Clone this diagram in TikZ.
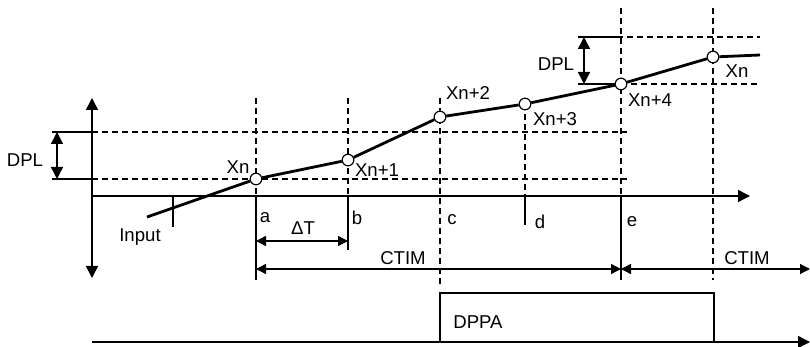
\documentclass[tikz,border=0pt]{standalone}
\usepackage{fontspec}
\setmainfont{Liberation Sans}
\usepackage{tikz}
\usetikzlibrary{arrows.meta}

\begin{document}
\begin{tikzpicture}[
  x=0.5pt,y=-0.5pt,
  axis/.style={line width=0.7pt},
  grid/.style={dash pattern=on 3pt off 2pt, line width=0.6pt},
  sig/.style={line width=1.4pt},
  smp/.style={circle, draw, fill=white, line width=0.6pt, minimum size=5.8pt, inner sep=0pt},
  lbl/.style={font=\fontsize{9.3}{11}\selectfont, inner sep=0pt},
  arr/.style={-{Triangle[length=6pt,width=6pt]}, line width=0.7pt},
  dimarr/.style={{Triangle[length=5pt,width=5pt]}-{Triangle[length=5pt,width=5pt]}, line width=0.7pt},
  bigdim/.style={{Triangle[length=6pt,width=6pt]}-{Triangle[length=6pt,width=6pt]}, line width=0.7pt}
]
\useasboundingbox (0,0) rectangle (810,347);
% axes
\coordinate (o) at (92,196);
\coordinate (tend) at (750,196);
\coordinate (vtop) at (92,98);
\coordinate (vbot) at (92,278);
\coordinate (b0) at (92,342);
\coordinate (bend) at (810,342);
\draw[arr] (o) -- (tend);
\draw[bigdim] (vtop) -- (vbot);
\draw[arr] (b0) -- (bend);
% DPL levels
\draw[axis] (52,132) -- (92,132);
\draw[grid] (92,132) -- (627,132);
\draw[axis] (52,179) -- (92,179);
\draw[grid] (92,179) -- (627,179);
\draw[axis] (578,37) -- (617,37);
\draw[grid] (617,37) -- (760,37);
\draw[axis] (578,84) -- (621,84);
\draw[grid] (621,84) -- (760,84);
% sampling instants
\draw[grid] (256,98) -- (256,196);
\draw[axis] (256,196) -- (256,280);
\draw[grid] (348,98) -- (348,196);
\draw[axis] (348,196) -- (348,250);
\draw[grid] (440,98) -- (440,285);
\draw[grid] (525,104) -- (525,196);
\draw[axis] (525,196) -- (525,225);
\draw[grid] (621,8) -- (621,196);
\draw[axis] (621,196) -- (621,280);
\draw[grid] (713,8) -- (713,280);
\draw[axis] (173,196) -- (173,227);
% input signal
\node[smp] (x0) at (256,179) {};
\node[smp] (x1) at (348,160) {};
\node[smp] (x2) at (440,117) {};
\node[smp] (x3) at (525,104) {};
\node[smp] (x4) at (621,84) {};
\node[smp] (x5) at (713,57) {};
\coordinate (in) at (147,217);
\coordinate (out) at (760,55);
\draw[sig] (in) -- (x0) -- (x1) -- (x2) -- (x3) -- (x4) -- (x5) -- (out);
% dimensions
\draw[bigdim] (57,132) -- (57,179);
\draw[bigdim] (584,37) -- (584,84);
\draw[dimarr] (256,241) -- (348,241);
\draw[dimarr] (256,269) -- (621,269);
\draw[dimarr] (621,269) -- (810,269);
% DPPA pulse
\node[draw, line width=0.7pt, minimum width=137pt, minimum height=24.5pt, inner sep=0pt] (dppa) at (577,317.5) {};
% labels
\node[lbl] (ldpl1) at (25,160) {DPL};
\node[lbl] (ldpl2) at (556,64) {DPL};
\node[lbl] (lx0) at (238,167) {Xn};
\node[lbl] (lx1) at (377,170) {Xn+1};
\node[lbl] (lx2) at (468,93) {Xn+2};
\node[lbl] (lx3) at (555,119) {Xn+3};
\node[lbl] (lx4) at (650,100) {Xn+4};
\node[lbl] (lx5) at (737,71) {Xn};
\node[lbl] (la) at (265,218) {a};
\node[lbl] (lb) at (357,218) {b};
\node[lbl] (lc) at (452,220) {c};
\node[lbl] (ld) at (540,222) {d};
\node[lbl] (le) at (632,222) {e};
\node[lbl] (lin) at (140,237) {Input};
\node[lbl] (ldt) at (303,228) {ΔT};
\node[lbl] (lct1) at (403,258) {CTIM};
\node[lbl] (lct2) at (747,258) {CTIM};
\node[lbl] (ldppa) at (478,322) {DPPA};
\end{tikzpicture}
\end{document}
